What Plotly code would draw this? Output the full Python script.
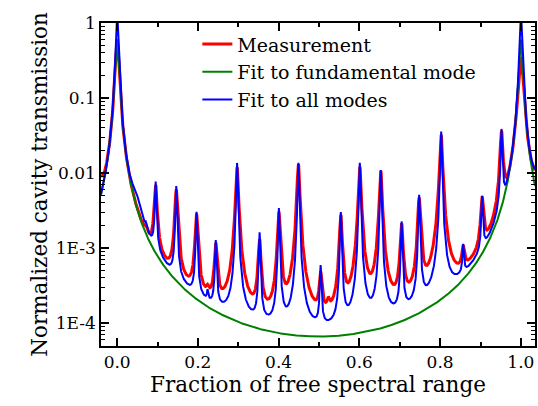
import numpy as np
import plotly.graph_objects as go

# ---- data ----
# higher-order mode positions (fraction of FSR)
mode_pos = [0.0710, 0.0954, 0.1464, 0.1966, 0.2240, 0.2443, 0.2970, 0.3528, 0.4005,
            0.4489, 0.5040, 0.5230, 0.5540, 0.6010, 0.6530, 0.7046, 0.7480, 0.8025,
            0.8570, 0.9040, 0.9520]
# peak amplitudes of the "fit to all modes" curve
fit_heights = [3.0e-4, 0.0067, 0.0063, 0.0028, 7e-5, 0.0011, 0.0135, 0.0015, 0.0033,
               0.0136, 4.9e-4, 0.0, 0.0029, 0.0136, 0.0108, 0.0021, 0.0049, 0.0357,
               6.5e-4, 0.0040, 0.0350]
# peak amplitudes of the measurement
meas_heights = [3.0e-4, 0.0060, 0.0056, 0.0026, 5e-5, 9.5e-4, 0.0118, 0.00115, 0.0029,
                0.0130, 3.3e-4, 5e-5, 0.0026, 0.0120, 0.0105, 0.0019, 0.0044, 0.0320,
                5.0e-4, 0.0038, 0.0330]
# broad shoulders next to the fundamental peaks (position, amplitude, width)
fit_shoulder_pos = [0.045, 1.045]
fit_shoulder_amp = [0.0020, 0.0065]
fit_shoulder_w = [0.012, 0.015]
meas_shoulder_pos = [-0.045, 1.045]
meas_shoulder_amp = [0.0045, 0.0060]
meas_shoulder_w = [0.012, 0.015]
# fundamental mode parameters (peak value, minimum value ~6.6e-5)
fund_peak_fit = 0.6
fund_peak_all = 1.3
meas_fund_peak = [0.6, 0.35]      # measured fundamental peaks at 0 and 1
fund_min = 6.6e-5
fund_exp = 1.05
mode_width_fit = 0.0018
mode_width_meas = 0.0032

x_range = [-0.040, 1.035]
y_tickvals = [1e-4, 1e-3, 1e-2, 1e-1, 1]
y_ticktext = ["1E-4", "1E-3", "0.01", "0.1", "1"]
x_tickvals = [0.0, 0.2, 0.4, 0.6, 0.8, 1.0]
x_ticktext = ["0.0", "0.2", "0.4", "0.6", "0.8", "1.0"]

# ---- curves built from the values above ----
x = np.arange(x_range[0], x_range[1] + 1e-9, 0.0002)
s2 = np.sin(np.pi * x) ** 2


def fundamental(peak):
    F = (peak / fund_min) ** (1.0 / fund_exp) - 1.0
    return peak / (1.0 + F * s2) ** fund_exp


def lorentz_sum(pos, heights, widths):
    out = np.zeros_like(x)
    for p, h, w in zip(pos, heights, widths):
        out += h / (1.0 + ((x - p) / w) ** 2)
    return out


green = fundamental(fund_peak_fit)
blue = (fundamental(fund_peak_all)
        + lorentz_sum(mode_pos, fit_heights, [mode_width_fit] * len(mode_pos))
        + lorentz_sum(fit_shoulder_pos, fit_shoulder_amp, fit_shoulder_w))
red_f = np.where(x < 0.5, fundamental(meas_fund_peak[0]), fundamental(meas_fund_peak[1]))
red = (red_f
       + lorentz_sum(mode_pos, meas_heights, [mode_width_meas] * len(mode_pos))
       + lorentz_sum(meas_shoulder_pos, meas_shoulder_amp, meas_shoulder_w))

FONT = "DejaVu Serif"
fig = go.Figure()
fig.add_trace(go.Scatter(x=x, y=red, mode="lines", name="Measurement",
                         line=dict(color="#ff0000", width=3), legendgroup="a"))
fig.add_trace(go.Scatter(x=x, y=green, mode="lines", name="Fit to fundamental mode",
                         line=dict(color="#008000", width=2), legendgroup="b"))
fig.add_trace(go.Scatter(x=x, y=blue, mode="lines", name="Fit to all modes",
                         line=dict(color="#0000ff", width=2), legendgroup="c"))

minor_y = [m * 10.0 ** e for e in range(-5, 0) for m in range(2, 10)]

fig.update_layout(
    width=538, height=406,
    margin=dict(l=101, r=1, t=23, b=60),
    paper_bgcolor="white", plot_bgcolor="white",
    font=dict(family=FONT, size=17, color="black"),
    showlegend=True,
    legend=dict(x=0.222, y=0.993, xanchor="left", yanchor="top",
                bgcolor="rgba(0,0,0,0)", font=dict(family=FONT, size=19),
                tracegroupgap=4, traceorder="normal"),
    xaxis=dict(range=x_range, showline=True, linecolor="black", linewidth=1.5,
               mirror="allticks", ticks="inside", ticklen=8, tickwidth=1.5,
               tickcolor="black", tickvals=x_tickvals, ticktext=x_ticktext,
               showgrid=False, zeroline=False,
               minor=dict(tickvals=[0.1, 0.3, 0.5, 0.7, 0.9], ticks="inside",
                          ticklen=4, tickwidth=1.5, tickcolor="black"),
               title=dict(text="Fraction of free spectral range",
                          font=dict(family=FONT, size=21.5), standoff=6),
               tickfont=dict(family=FONT, size=17)),
    yaxis=dict(type="log", range=[-4.307, 0], showline=True, linecolor="black",
               linewidth=1.5, mirror="allticks", ticks="inside", ticklen=8,
               tickwidth=1.5, tickcolor="black", tickvals=y_tickvals,
               ticktext=y_ticktext, showgrid=False, zeroline=False,
               minor=dict(tickvals=minor_y, ticks="inside", ticklen=4,
                          tickwidth=1, tickcolor="black"),
               title=dict(text="Normalized cavity transmission",
                          font=dict(family=FONT, size=21.5), standoff=2),
               tickfont=dict(family=FONT, size=17)),
)
fig.write_html("out.html")
